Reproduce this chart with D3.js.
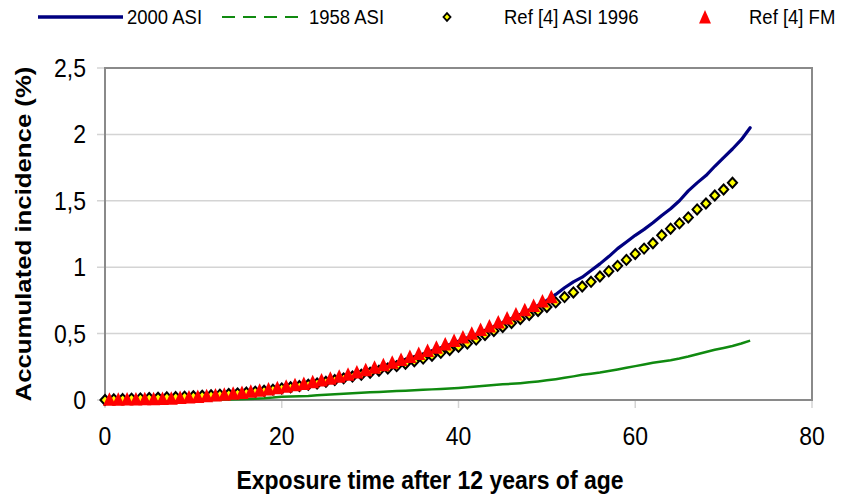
<!DOCTYPE html>
<html>
<head>
<meta charset="utf-8">
<script src="https://cdn.jsdelivr.net/npm/d3@7"></script>
<style>
  body { margin: 0; background: #fff; }
  svg text { font-family: "Liberation Sans", Arial, sans-serif; fill: #000; }
</style>
</head>
<body>
<svg id="chart" width="845" height="495"></svg>
<script>
// values, one per year of exposure time
const asi2000 = [0, 0.004, 0.006, 0.008, 0.009, 0.01, 0.012, 0.014, 0.017, 0.02,
  0.024, 0.029, 0.034, 0.04, 0.046, 0.053, 0.06, 0.068, 0.077, 0.086,
  0.096, 0.107, 0.118, 0.13, 0.142, 0.155, 0.168, 0.182, 0.197, 0.213,
  0.23, 0.247, 0.265, 0.284, 0.304, 0.325, 0.347, 0.37, 0.393, 0.417,
  0.442, 0.468, 0.495, 0.523, 0.552, 0.582, 0.613, 0.645, 0.678, 0.712,
  0.75, 0.795, 0.845, 0.89, 0.925, 0.975, 1.025, 1.08, 1.14, 1.19,
  1.24, 1.285, 1.335, 1.39, 1.44, 1.5, 1.575, 1.635, 1.69, 1.76,
  1.825, 1.89, 1.96, 2.05];

const asi1958 = [0, 0, 0, 0, 0, 0, 0, 0, 0, 0,
  0, 0, 0, 0.002, 0.004, 0.006, 0.008, 0.01, 0.013, 0.018,
  0.025, 0.027, 0.029, 0.031, 0.035, 0.04, 0.044, 0.047, 0.05, 0.054,
  0.058, 0.061, 0.064, 0.067, 0.07, 0.073, 0.077, 0.08, 0.083, 0.087,
  0.091, 0.096, 0.102, 0.108, 0.113, 0.118, 0.122, 0.127, 0.133, 0.14,
  0.148, 0.157, 0.167, 0.178, 0.19, 0.198, 0.207, 0.218, 0.23, 0.243,
  0.255, 0.267, 0.28, 0.29, 0.3, 0.312, 0.327, 0.345, 0.362, 0.378,
  0.392, 0.407, 0.425, 0.447];

const ref4Asi1996 = [0, 0.005, 0.007, 0.01, 0.012, 0.015, 0.017, 0.02, 0.022, 0.025,
  0.028, 0.032, 0.036, 0.04, 0.045, 0.05, 0.056, 0.063, 0.07, 0.078,
  0.087, 0.096, 0.105, 0.115, 0.125, 0.137, 0.15, 0.163, 0.177, 0.19,
  0.205, 0.22, 0.237, 0.255, 0.273, 0.292, 0.312, 0.333, 0.355, 0.377,
  0.4, 0.425, 0.455, 0.49, 0.52, 0.55, 0.58, 0.61, 0.64, 0.67,
  0.7, 0.735, 0.775, 0.81, 0.855, 0.89, 0.93, 0.97, 1.01, 1.055,
  1.1, 1.14, 1.18, 1.24, 1.29, 1.33, 1.375, 1.435, 1.48, 1.54,
  1.585, 1.636];

// FM points sit half way between the years (0.5, 1.5, ...)
const ref4Fm = [0.005, 0.006, 0.007, 0.008, 0.009, 0.01, 0.012, 0.014, 0.018, 0.022,
  0.027, 0.032, 0.037, 0.043, 0.05, 0.057, 0.065, 0.073, 0.082, 0.092,
  0.103, 0.114, 0.125, 0.137, 0.15, 0.163, 0.178, 0.194, 0.21, 0.228,
  0.246, 0.265, 0.285, 0.305, 0.327, 0.35, 0.373, 0.397, 0.422, 0.448,
  0.475, 0.502, 0.53, 0.558, 0.587, 0.617, 0.648, 0.68, 0.712, 0.745,
  0.778];

const xTicks = [0, 20, 40, 60, 80];
const yTicks = [0, 0.5, 1, 1.5, 2, 2.5];
const legendNames = ["2000 ASI", "1958 ASI", "Ref [4] ASI 1996", "Ref [4] FM"];

const svg = d3.select("#chart");

const x = d3.scaleLinear().domain([0, 80]).range([105, 812]);
const y = d3.scaleLinear().domain([0, 2.5]).range([400, 68]);

const fmtY = d => String(d).replace(".", ",");

// the original picture is a bit stretched vertically, text too
const tall = (px, py) => `translate(${px},${py}) scale(1,1.12)`;

// grid lines (they stick out a bit left of the axis like excel does)
svg.append("g").selectAll("line.grid")
  .data(yTicks.slice(1, -1))
  .enter().append("line")
  .attr("x1", 97).attr("x2", x(80))
  .attr("y1", d => y(d)).attr("y2", d => y(d))
  .attr("stroke", "#d4d4d4").attr("stroke-width", 1.5);

// little ticks under x axis
svg.append("g").selectAll("line.xt")
  .data(xTicks)
  .enter().append("line")
  .attr("x1", d => x(d)).attr("x2", d => x(d))
  .attr("y1", 400).attr("y2", 408)
  .attr("stroke", "#d4d4d4").attr("stroke-width", 1.5);

// y ticks left of the axis at 0 and 2.5
svg.append("g").selectAll("line.yt")
  .data([0, 2.5])
  .enter().append("line")
  .attr("x1", 97).attr("x2", 105)
  .attr("y1", d => y(d)).attr("y2", d => y(d))
  .attr("stroke", "#d4d4d4").attr("stroke-width", 1.5);

// plot frame
svg.append("rect")
  .attr("x", x(0)).attr("y", y(2.5))
  .attr("width", x(80) - x(0)).attr("height", y(0) - y(2.5))
  .attr("fill", "none").attr("stroke", "#8a8a8a").attr("stroke-width", 2);

// tick labels
svg.append("g").selectAll("text")
  .data(yTicks)
  .enter().append("text")
  .attr("transform", d => tall(86, y(d) + 9))
  .attr("text-anchor", "end")
  .style("font-size", "23px")
  .text(fmtY);

svg.append("g").selectAll("text")
  .data(xTicks)
  .enter().append("text")
  .attr("transform", d => tall(x(d), 445))
  .attr("text-anchor", "middle")
  .style("font-size", "23px")
  .text(d => d);

// axis titles
svg.append("text")
  .attr("transform", tall(430, 489))
  .attr("text-anchor", "middle")
  .style("font-size", "23px").style("font-weight", "bold")
  .text("Exposure time after 12 years of age");

svg.append("text")
  .attr("transform", `translate(31,${(y(0) + y(2.5)) / 2}) rotate(-90) scale(1.12,1)`)
  .attr("text-anchor", "middle")
  .style("font-size", "23px").style("font-weight", "bold")
  .text("Accumulated incidence (%)");

// series
const line = d3.line().x((d, i) => x(i)).y(d => y(d));

svg.append("path")
  .datum(asi2000)
  .attr("d", line)
  .attr("fill", "none").attr("stroke", "#000080").attr("stroke-width", 3.2)
  .attr("stroke-linejoin", "round").attr("stroke-linecap", "round");

svg.append("path")
  .datum(asi1958)
  .attr("d", line)
  .attr("fill", "none").attr("stroke", "#108a10").attr("stroke-width", 2.5)
  .attr("stroke-linejoin", "round");

// faint line joining the diamonds
svg.append("path")
  .datum(ref4Asi1996)
  .attr("d", line)
  .attr("fill", "none").attr("stroke", "#f3c4c4").attr("stroke-width", 1);

const diamond = "M0,-5L4.6,0L0,5L-4.6,0Z";
svg.append("g").selectAll("path")
  .data(ref4Asi1996)
  .enter().append("path")
  .attr("d", diamond)
  .attr("transform", (d, i) => `translate(${x(i)},${y(d)})`)
  .attr("fill", "#ffff00").attr("stroke", "#000").attr("stroke-width", 2);

const tri = "M0,-7L6.5,6.5L-6.5,6.5Z";
svg.append("g").selectAll("path")
  .data(ref4Fm)
  .enter().append("path")
  .attr("d", tri)
  .attr("transform", (d, i) => `translate(${x(i + 0.5)},${y(d)})`)
  .attr("fill", "#ff0000");

// legend
const lg = svg.append("g");
lg.append("line").attr("x1", 38).attr("x2", 123).attr("y1", 17).attr("y2", 17)
  .attr("stroke", "#000080").attr("stroke-width", 3.5);
lg.append("line").attr("x1", 222).attr("x2", 304).attr("y1", 17).attr("y2", 17)
  .attr("stroke", "#108a10").attr("stroke-width", 2).attr("stroke-dasharray", "13,8");
lg.append("path").attr("d", "M0,-3.8L3.5,0L0,3.8L-3.5,0Z")
  .attr("transform", "translate(447,17)")
  .attr("fill", "#ffff00").attr("stroke", "#000").attr("stroke-width", 1.8);
lg.append("path").attr("d", "M0,-7L6,6.5L-6,6.5Z")
  .attr("transform", "translate(705,17)")
  .attr("fill", "#ff0000");

const legendX = [127, 309, 504, 749];
lg.selectAll("text")
  .data(legendNames)
  .enter().append("text")
  .attr("transform", (d, i) => tall(legendX[i], 24))
  .style("font-size", "18.5px")
  .text(d => d);
</script>
</body>
</html>
